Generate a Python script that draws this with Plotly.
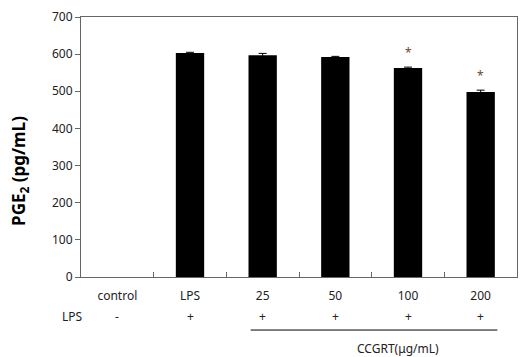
import plotly.graph_objects as go

categories = ["control", "LPS", "25", "50", "100", "200"]
lps_row = ["-", "+", "+", "+", "+", "+"]
values = [None, 603, 597, 592, 563, 498]
errors = [None, 2, 5, 2, 2, 5]
significant = [False, False, False, False, True, True]
y_ticks = [0, 100, 200, 300, 400, 500, 600, 700]

FONT = "Noto Sans"
idx = list(range(len(categories)))
fig = go.Figure()
fig.add_trace(go.Bar(
    x=idx, y=values,
    marker=dict(color="black", line=dict(width=0)),
    error_y=dict(type="data", array=errors, visible=True, color="black", thickness=1, width=4),
    width=0.39,
))

ann = []
for i, s in zip(idx, lps_row):
    ann.append(dict(x=i, y=0, xref="x", yref="paper", yanchor="middle", yshift=-39,
                    text=s, showarrow=False, font=dict(family=FONT, size=12, color="#222")))
ann.append(dict(x=-0.048, y=0, xref="paper", yref="paper", yanchor="middle", yshift=-39,
                text="LPS", showarrow=False, font=dict(family=FONT, size=12, color="#222")))
for i, v, e, s in zip(idx, values, errors, significant):
    if s:
        ann.append(dict(x=i, y=v + (e or 0), xref="x", yref="y", yanchor="bottom", yshift=4,
                        text="*", showarrow=False, font=dict(family=FONT, size=12, color="#6b4a2a")))
ann.append(dict(x=3.86, y=0, xref="x", yref="paper", yanchor="middle", yshift=-71,
                text="CCGRT(μg/mL)", showarrow=False, font=dict(family=FONT, size=12, color="#222")))
ann.append(dict(x=-0.14, y=0.408, xref="paper", yref="paper", xanchor="center", yanchor="middle",
                text="<b>PGE<sub>2</sub> (pg/mL)</b>", textangle=-90, showarrow=False,
                font=dict(family=FONT, size=17, color="black")))

fig.update_layout(
    width=521, height=357,
    margin=dict(l=81, r=4, t=17, b=80),
    plot_bgcolor="white", paper_bgcolor="white",
    showlegend=False,
    annotations=ann,
    shapes=[dict(type="line", xref="x", yref="paper", x0=1.835, x1=5.23, y0=-0.204, y1=-0.204,
                 line=dict(color="black", width=1))],
    xaxis=dict(
        tickmode="array", tickvals=idx, ticktext=categories,
        tickfont=dict(family=FONT, size=12, color="#222"),
        showline=True, linecolor="#666", linewidth=1, mirror=True,
        ticks="", range=[-0.5, 5.5], showgrid=False, zeroline=False, ticklabelstandoff=8,
        minor=dict(tickvals=[0.5, 1.5, 2.5, 3.5, 4.5], ticks="inside", ticklen=5, tickcolor="#666", showgrid=False),
    ),
    yaxis=dict(
        range=[0, 700], tickvals=y_ticks,
        tickfont=dict(family=FONT, size=12, color="#222"),
        showline=True, linecolor="#666", linewidth=1, mirror=True,
        ticks="outside", ticklen=5, tickcolor="#666",
        showgrid=False, zeroline=False,
    ),
)
fig.write_html("out.html")
